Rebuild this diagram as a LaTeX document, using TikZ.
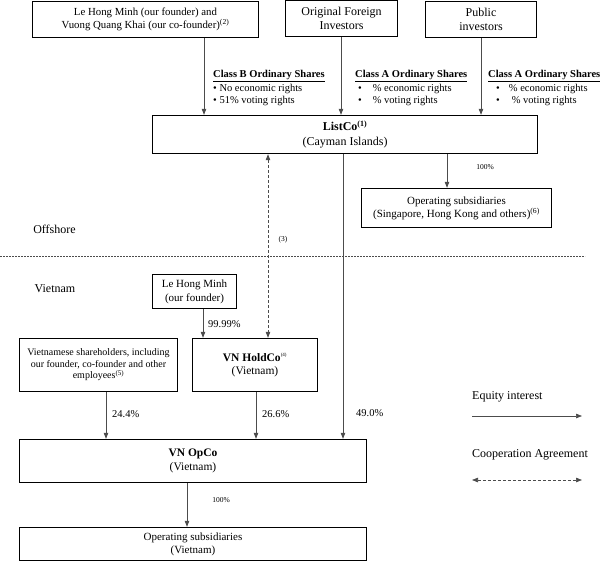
\documentclass[tikz,border=0pt]{standalone}
\usepackage{fontspec}
\setmainfont{Liberation Serif}
\usetikzlibrary{arrows.meta}

\tikzset{
  box/.style={draw, line width=1.4pt, align=center, inner sep=1pt,
    font=\fontsize{10.8}{13}\selectfont},
  equity/.style={draw=black!70, line width=0.7pt,
    -{Triangle[length=6pt,width=4.5pt]}},
  coop/.style={draw=black!70, line width=0.7pt, dash pattern=on 3pt off 2pt,
    {Triangle[length=6pt,width=4.5pt]}-{Triangle[length=6pt,width=4.5pt]}},
  pct/.style={font=\fontsize{10.5}{12}\selectfont, anchor=west, inner sep=0pt},
  tinypct/.style={font=\fontsize{7.5}{8}\selectfont, inner sep=0pt},
  shares/.style={font=\fontsize{10.5}{11.5}\selectfont, align=left,
    anchor=north west, inner sep=0pt},
  region/.style={font=\fontsize{12}{14}\selectfont, inner sep=0pt},
}

\begin{document}
\begin{tikzpicture}[x=1pt, y=-1pt]
  \useasboundingbox (0,0) rectangle (605,563);

  % Shareholders
  \node[box, minimum width=226pt, minimum height=36pt] (founders) at (145.5,19.5)
    {Le Hong Minh (our founder) and\\ Vuong Quang Khai (our co-founder)\textsuperscript{(2)}};
  \node[box, minimum width=112pt, minimum height=36pt, font=\fontsize{12}{13.5}\selectfont]
    (foreign) at (341.5,18.5) {Original Foreign\\ Investors};
  \node[box, minimum width=111pt, minimum height=36pt, font=\fontsize{12}{13.5}\selectfont]
    (public) at (481,19.5) {Public\\ investors};

  % ListCo and offshore subsidiaries
  \node[box, minimum width=385pt, minimum height=38pt, font=\fontsize{12}{15.5}\selectfont]
    (listco) at (345,134.5) {\textbf{ListCo\textsuperscript{(1)}}\\ (Cayman Islands)};
  \node[box, minimum width=190pt, minimum height=39pt, font=\fontsize{11}{13}\selectfont]
    (offsubs) at (456.5,208)
    {Operating subsidiaries\\ (Singapore, Hong Kong and others)\textsuperscript{(6)}};

  % Share classes
  \node[shares] (classb) at (213,70)
    {\underline{\textbf{Class B Ordinary Shares}}\\[1.5pt]
     \textbullet\ No economic rights\\
     \textbullet\ 51\% voting rights};
  \node[shares] (classa) at (355,70)
    {\underline{\textbf{Class A Ordinary Shares}}\\[1.5pt]
     \hspace*{3pt}\textbullet\hspace{11pt}\% economic rights\\
     \hspace*{3pt}\textbullet\hspace{11pt}\% voting rights};
  \node[shares] (classapub) at (488,70)
    {\underline{\textbf{Class A Ordinary Shares}}\\[1.5pt]
     \hspace*{8pt}\textbullet\hspace{9pt}\% economic rights\\
     \hspace*{8pt}\textbullet\hspace{12pt}\% voting rights};

  \draw[equity] (204,0 |- founders.south) -- (204,0 |- listco.north);
  \draw[equity] (341,0 |- foreign.south) -- (341,0 |- listco.north);
  \draw[equity] (481,0 |- public.south) -- (481,0 |- listco.north);
  \draw[equity] (447,0 |- listco.south) -- (447,0 |- offsubs.north);
  \node[tinypct] (pctoff) at (485,167) {100\%};

  % Offshore / Vietnam
  \node[region] (offshore) at (54.5,229) {Offshore};
  \draw[black!70, line width=0.6pt, dash pattern=on 2pt off 1pt] (0,256) -- (585,256);
  \node[region] (vietnam) at (55,289) {Vietnam};

  % Vietnam entities
  \node[box, minimum width=84pt, minimum height=34pt, font=\fontsize{11}{14}\selectfont]
    (minh) at (194.5,291.5) {Le Hong Minh\\ (our founder)};
  \node[box, minimum width=158pt, minimum height=53pt, font=\fontsize{10}{11.5}\selectfont]
    (vnshare) at (98.5,365)
    {Vietnamese shareholders, including\\ our founder, co-founder and other\\
     employees\textsuperscript{(5)}};
  \node[box, minimum width=125pt, minimum height=53pt, font=\fontsize{11.5}{13.5}\selectfont]
    (holdco) at (255,365) {\textbf{VN HoldCo}\textsuperscript{\tiny(4)}\\ (Vietnam)};
  \node[box, minimum width=347pt, minimum height=43pt, font=\fontsize{11.5}{14}\selectfont]
    (opco) at (193,461) {\textbf{VN OpCo}\\ (Vietnam)};
  \node[box, minimum width=347pt, minimum height=33pt, font=\fontsize{11}{13}\selectfont]
    (vnsubs) at (193,544) {Operating subsidiaries\\ (Vietnam)};

  \draw[equity] (203,0 |- minh.south) -- (203,0 |- holdco.north);
  \node[pct] (pctminh) at (208,324) {99.99\%};
  \draw[coop] (268,0 |- listco.south) -- (268,0 |- holdco.north);
  \node[tinypct] (coopnote) at (283,240) {(3)};

  \draw[equity] (106,0 |- vnshare.south) -- (106,0 |- opco.north);
  \node[pct] (pctvn) at (112,414) {24.4\%};
  \draw[equity] (256,0 |- holdco.south) -- (256,0 |- opco.north);
  \node[pct] (pcthold) at (262,414) {26.6\%};
  \draw[equity] (343,0 |- listco.south) -- (343,0 |- opco.north);
  \node[pct] (pctlist) at (356,413) {49.0\%};

  \draw[equity] (187,0 |- opco.south) -- (187,0 |- vnsubs.north);
  \node[tinypct] (pctvnsubs) at (221,500) {100\%};

  % Legend
  \node[region, anchor=west] (eqlabel) at (472,397) {Equity interest};
  \coordinate (eqfrom) at (472,416);
  \coordinate (eqto) at (582,416);
  \draw[equity] (eqfrom) -- (eqto);
  \node[region, anchor=west] (cooplabel) at (472,455) {Cooperation Agreement};
  \coordinate (coopfrom) at (472,480);
  \coordinate (coopto) at (582,480);
  \draw[coop] (coopfrom) -- (coopto);
\end{tikzpicture}
\end{document}
